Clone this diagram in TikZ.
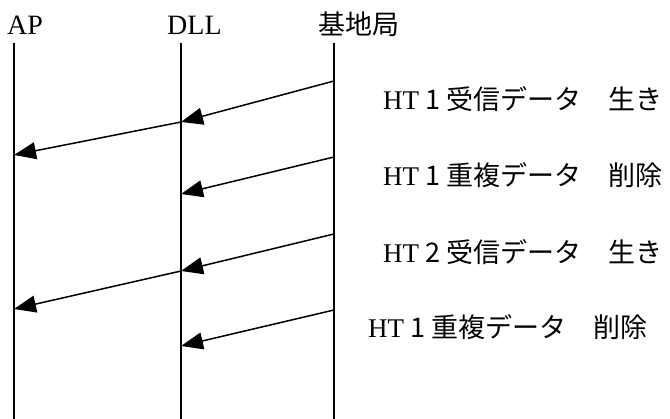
\documentclass[tikz,border=0pt]{standalone}
\usepackage{fontspec}
\setmainfont{Liberation Serif}
\newfontfamily\jp{Noto Sans CJK JP}
\usetikzlibrary{arrows.meta}
\tikzset{
  life/.style={line width=1.5pt},
  msg/.style={line width=1.5pt,-{Triangle[length=22pt,width=17pt]}},
  hdr/.style={anchor=base west,inner sep=0pt,font=\fontsize{28}{30}\selectfont},
  lbl/.style={anchor=base west,inner sep=0pt,font=\fontsize{27}{30}\selectfont}
}
\begin{document}
\begin{tikzpicture}[x=1pt,y=-1pt]
\useasboundingbox (0,0) rectangle (670,419);
% headers
\node[hdr] (hap) at (7,35) {AP};
\node[hdr] (hdll) at (167,35) {DLL};
\node[hdr] (hbs) at (318,35) {\jp\fontsize{27}{30}\selectfont 基地局};
% lifelines
\coordinate (apT) at (14,43);  \coordinate (apB) at (14,419);
\coordinate (dlT) at (181,43); \coordinate (dlB) at (181,419);
\coordinate (bsT) at (334,43); \coordinate (bsB) at (334,419);
\draw[life] (apT) -- (apB);
\draw[life] (dlT) -- (dlB);
\draw[life] (bsT) -- (bsB);
% message points
\coordinate (b1) at (334,81);  \coordinate (d1) at (181,122); \coordinate (a1) at (14,155);
\coordinate (b2) at (334,157); \coordinate (d2) at (181,194);
\coordinate (b3) at (334,234); \coordinate (d3) at (181,271); \coordinate (a3) at (14,309);
\coordinate (b4) at (334,310); \coordinate (d4) at (181,346);
\draw[msg] (b1) -- (d1);
\draw[msg] (d1) -- (a1);
\draw[msg] (b2) -- (d2);
\draw[msg] (b3) -- (d3);
\draw[msg] (d3) -- (a3);
\draw[msg] (b4) -- (d4);
% labels
\node[lbl] (l1) at (383,110) {HT {\jp 1 受信データ　生き}};
\node[lbl] (l2) at (383,186) {HT {\jp 1 重複データ　削除}};
\node[lbl] (l3) at (383,263) {HT {\jp 2 受信データ　生き}};
\node[lbl] (l4) at (368,338) {HT {\jp 1 重複データ　削除}};
\end{tikzpicture}
\end{document}
